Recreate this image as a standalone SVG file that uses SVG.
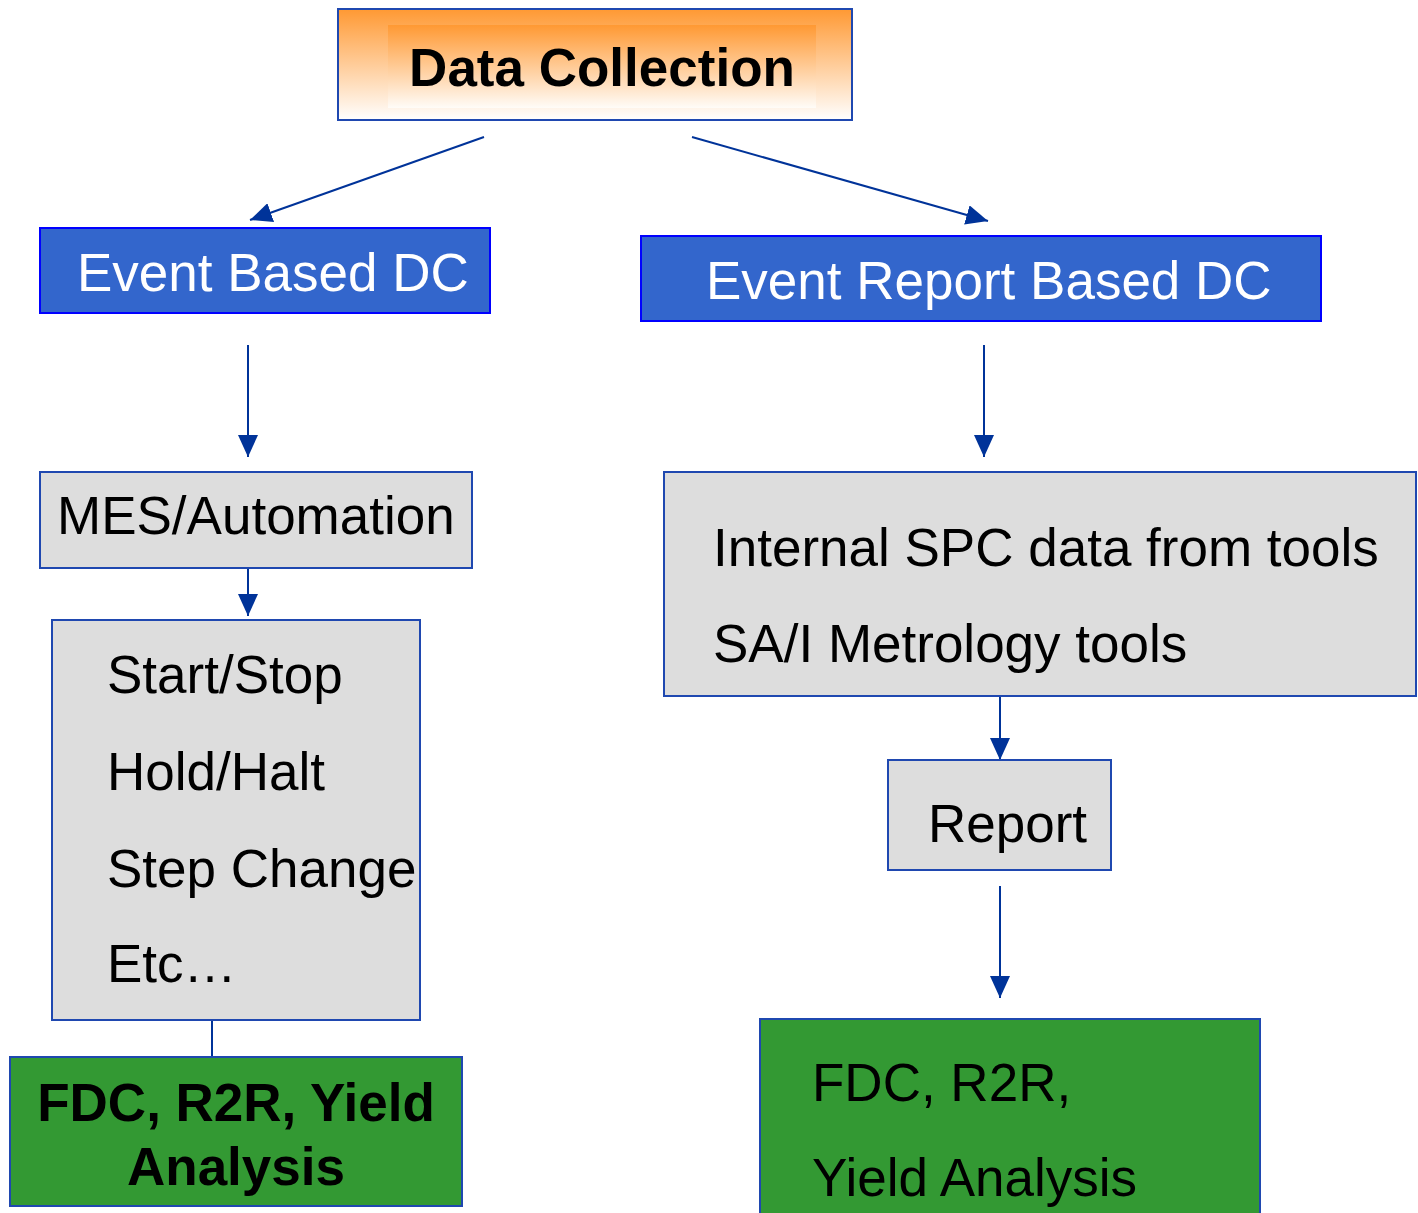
<svg xmlns="http://www.w3.org/2000/svg" width="1418" height="1213" viewBox="0 0 1418 1213">
<style>
.t{font-family:"Liberation Sans",Arial,sans-serif;font-size:53px;fill:#000}
.w{fill:#fff}
.b{font-weight:bold}
.gray{fill:#DDDDDD;stroke:#1F48B0;stroke-width:2}
.blue{fill:#3366CC;stroke:#0000FF;stroke-width:2}
.green{fill:#339933;stroke:#1F48B0;stroke-width:2}
.c{stroke:#003399;stroke-width:2;fill:none}
</style>
<defs>
<linearGradient id="g1" x1="0" y1="0" x2="0" y2="1">
<stop offset="0" stop-color="#FF9933"/>
<stop offset="1" stop-color="#FFFFFF"/>
</linearGradient>
<linearGradient id="g2" x1="0" y1="0" x2="0" y2="1">
<stop offset="0" stop-color="#FF9933"/>
<stop offset="1" stop-color="#FFFCF8"/>
</linearGradient>
<marker id="ah" viewBox="0 0 22 20" refX="22" refY="10" markerWidth="22" markerHeight="20" markerUnits="userSpaceOnUse" orient="auto">
<path d="M0,0 L22,10 L0,20 Z" fill="#003399"/>
</marker>
</defs>
<g id="connectors">
<line class="c" x1="484" y1="137" x2="250" y2="220" marker-end="url(#ah)"/>
<line class="c" x1="692" y1="137" x2="988" y2="221" marker-end="url(#ah)"/>
<line class="c" x1="248" y1="345" x2="248" y2="457" marker-end="url(#ah)"/>
<line class="c" x1="984" y1="345" x2="984" y2="457" marker-end="url(#ah)"/>
<line class="c" x1="248" y1="569" x2="248" y2="616" marker-end="url(#ah)"/>
<line class="c" x1="1000" y1="697" x2="1000" y2="760" marker-end="url(#ah)"/>
<line class="c" x1="1000" y1="886" x2="1000" y2="998" marker-end="url(#ah)"/>
<line class="c" x1="212" y1="1020" x2="212" y2="1057"/>
</g>
<g id="data-collection">
<rect x="338" y="9" width="514" height="111" fill="url(#g1)" stroke="#1F48B0" stroke-width="2"/>
<rect x="388" y="25" width="428" height="83" fill="url(#g2)"/>
<text class="t b" x="602" y="86" text-anchor="middle">Data Collection</text>
</g>
<g id="event-based-dc">
<rect class="blue" x="40" y="228" width="450" height="85"/>
<text class="t w" x="77" y="291">Event Based DC</text>
</g>
<g id="event-report-based-dc">
<rect class="blue" x="641" y="236" width="680" height="85"/>
<text class="t w" x="706" y="299">Event Report Based DC</text>
</g>
<g id="mes-automation">
<rect class="gray" x="40" y="472" width="432" height="96"/>
<text class="t" x="57" y="534">MES/Automation</text>
</g>
<g id="events-list">
<rect class="gray" x="52" y="620" width="368" height="400"/>
<text class="t" x="107" y="693">Start/Stop</text>
<text class="t" x="107" y="790">Hold/Halt</text>
<text class="t" x="107" y="887">Step Change</text>
<text class="t" x="107" y="982">Etc…</text>
</g>
<g id="spc-sources">
<rect class="gray" x="664" y="472" width="752" height="224"/>
<text class="t" x="713" y="566">Internal SPC data from tools</text>
<text class="t" x="713" y="662">SA/I Metrology tools</text>
</g>
<g id="report">
<rect class="gray" x="888" y="760" width="223" height="110"/>
<text class="t" x="928" y="842">Report</text>
</g>
<g id="left-outcome">
<rect class="green" x="10" y="1057" width="452" height="149"/>
<text class="t b" x="236" y="1121" text-anchor="middle">FDC, R2R, Yield</text>
<text class="t b" x="236" y="1185" text-anchor="middle">Analysis</text>
</g>
<g id="right-outcome">
<rect class="green" x="760" y="1019" width="500" height="200"/>
<text class="t" x="812" y="1101">FDC, R2R,</text>
<text class="t" x="812" y="1196">Yield Analysis</text>
</g>
</svg>
